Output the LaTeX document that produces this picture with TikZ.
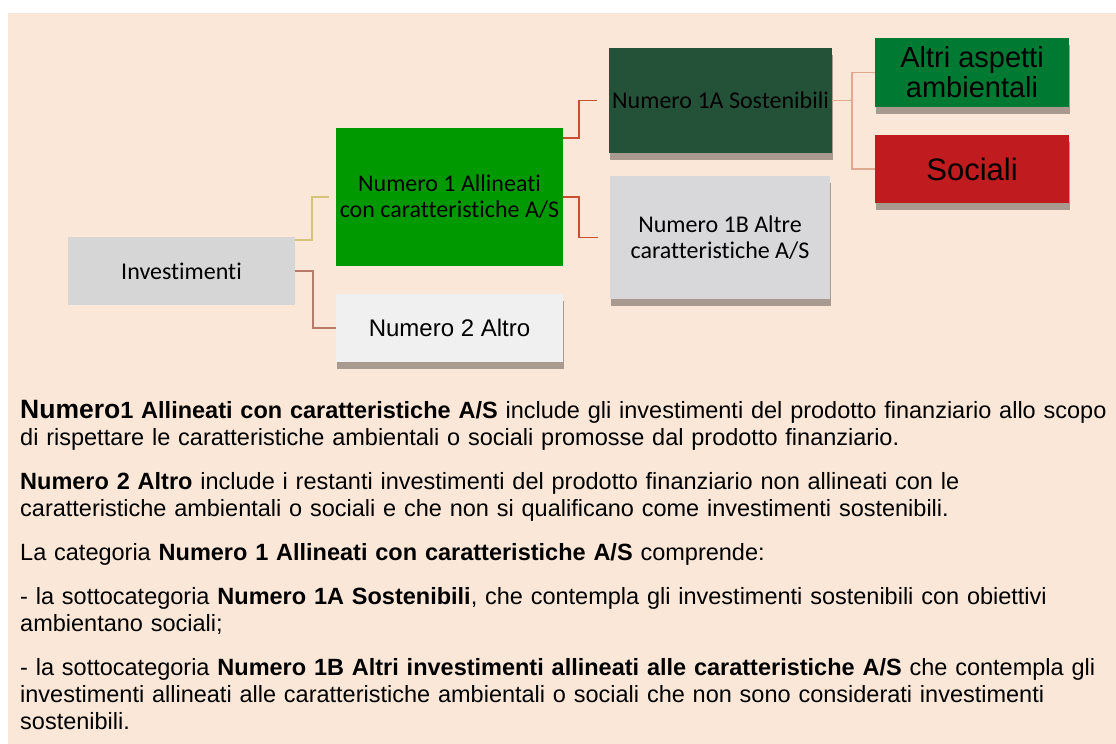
\documentclass[tikz,border=0pt]{standalone}
\usepackage{fontspec}
\setmainfont{Liberation Sans}
\newfontfamily\calibri[Ligatures=NoCommon]{Carlito}
\usetikzlibrary{calc,shadows}
\definecolor{bgbeige}{RGB}{250,231,215}
\definecolor{invgray}{RGB}{214,214,214}
\definecolor{brightgreen}{RGB}{0,153,0}
\definecolor{altrogray}{RGB}{240,240,240}
\definecolor{darkgreen}{RGB}{36,82,57}
\definecolor{lightgray}{RGB}{216,216,218}
\definecolor{envgreen}{RGB}{0,122,51}
\definecolor{socred}{RGB}{192,27,30}
\definecolor{shadowgray}{RGB}{168,154,142}
\definecolor{linkyellow}{RGB}{212,196,122}
\definecolor{linkbrown}{RGB}{184,122,106}
\definecolor{linkred}{RGB}{200,80,50}
\definecolor{linksalmon}{RGB}{224,168,144}
\tikzset{
  cell/.style={inner sep=0pt, align=center, text=black},
  shadowed/.style={drop shadow={shadow xshift=1pt, shadow yshift=-7pt, fill=shadowgray, opacity=1}},
  calfont/.style={font=\calibri\fontsize{24}{26}\selectfont},
  link/.style={line width=1.5pt}
}
\begin{document}
\begin{tikzpicture}[x=1pt,y=-1pt]
\useasboundingbox (0,0) rectangle (1116,744);
\fill[white] (0,0) rectangle (1116,744);
\fill[bgbeige] (8,13) rectangle (1116,744);
\node[cell, calfont, fill=invgray, minimum width=227, minimum height=68] (inv) at (181.5,271) {Investimenti};
\node[cell, calfont, fill=brightgreen, minimum width=227, minimum height=138] (n1) at (449.5,197) {Numero 1 Allineati\\con caratteristiche A/S};
\node[cell, shadowed, fill=altrogray, minimum width=227, minimum height=68, font=\fontsize{24}{28}\selectfont] (n2) at (449.5,328) {Numero 2 Altro};
\node[cell, shadowed, calfont, fill=darkgreen, minimum width=223, minimum height=105] (s1a) at (720.5,100.5) {Numero 1A Sostenibili};
\node[cell, shadowed, calfont, fill=lightgray, minimum width=220, minimum height=123] (s1b) at (720,237.5) {Numero 1B Altre\\caratteristiche A/S};
\node[cell, shadowed, fill=envgreen, minimum width=194, minimum height=69, font=\fontsize{29}{30}\selectfont] (amb) at (972,72.5) {Altri aspetti\\ambientali};
\node[cell, shadowed, fill=socred, minimum width=194, minimum height=68, font=\fontsize{31}{34}\selectfont] (soc) at (972,169) {Sociali};
\draw[link, linkyellow] ($(inv.north east)+(0,3)$) -- ++(17,0) |- ($(n1.west)+(-7,0)$);
\draw[link, linkbrown] (inv.east) -- ++(18,0) |- (n2.west);
\draw[link, linkred] ($(n1.north east)+(0,10)$) -- ++(16,0) |- ($(s1a.west)+(-12,0)$);
\draw[link, linkred] (n1.east) -- ++(16,0) |- ($(s1b.west)+(-12,0)$);
\draw[link, linksalmon] (s1a.east) -- ++(20,0) |- (amb.west);
\draw[link, linksalmon] (s1a.east) -- ++(20,0) |- (soc.west);
\node[inner sep=0pt, anchor=base west, text width=1100, align=left, font=\fontsize{23.5}{27}\selectfont] (notes) at (20,418) {%
\setlength{\parskip}{17pt}%
\textbf{{\fontsize{26.5}{27}\selectfont Numero}1 Allineati con caratteristiche A/S} include gli investimenti del prodotto finanziario allo scopo\\
di rispettare le caratteristiche ambientali o sociali promosse dal prodotto finanziario.\par
\textbf{Numero 2 Altro} include i restanti investimenti del prodotto finanziario non allineati con le\\
caratteristiche ambientali o sociali e che non si qualificano come investimenti sostenibili.\par
La categoria \textbf{Numero 1 Allineati con caratteristiche A/S} comprende:\par
- la sottocategoria \textbf{Numero 1A Sostenibili}, che contempla gli investimenti sostenibili con obiettivi\\
ambientano sociali;\par
- la sottocategoria \textbf{Numero 1B Altri investimenti allineati alle caratteristiche A/S} che contempla gli\\
investimenti allineati alle caratteristiche ambientali o sociali che non sono considerati investimenti\\
sostenibili.};
\end{tikzpicture}
\end{document}
